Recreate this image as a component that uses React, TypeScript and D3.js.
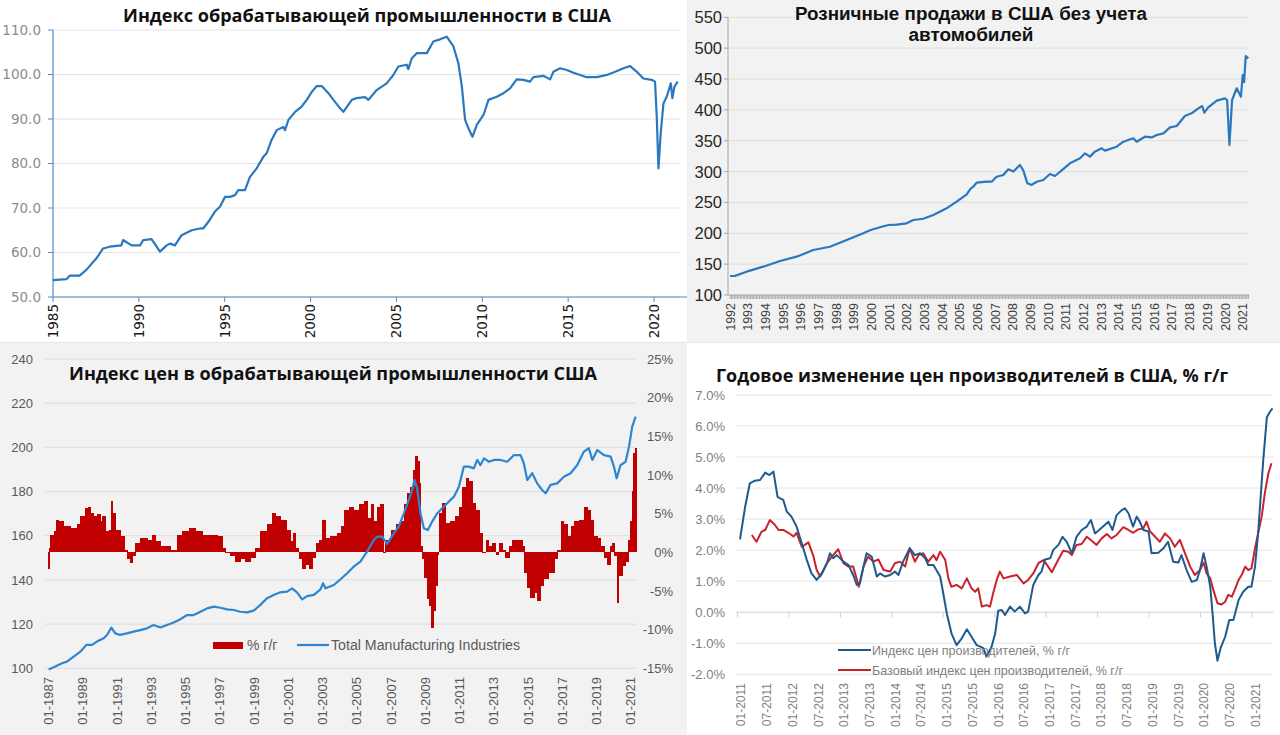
import React from "react";
import * as d3 from "d3";

type Pt = [number, number];

// ---------- Panel 1: manufacturing production index ----------
const mfgTitle = "Индекс обрабатывающей промышленности в США";
const mfgYTicks = [50, 60, 70, 80, 90, 100, 110];
const mfgXTicks = [1985, 1990, 1995, 2000, 2005, 2010, 2015, 2020];
const mfgSeries: Pt[] = [
  [1985.0, 53.8], [1985.78, 54.0], [1985.97, 54.8], [1986.55, 54.8], [1986.94, 56.1], [1987.53, 58.7],
  [1987.92, 60.9], [1988.3, 61.3], [1988.98, 61.6], [1989.08, 62.8], [1989.58, 61.6], [1990.07, 61.6],
  [1990.26, 62.8], [1990.74, 63.0], [1991.23, 60.2], [1991.62, 61.6], [1991.81, 62.0], [1992.1, 61.6],
  [1992.49, 63.9], [1993.08, 65.0], [1993.56, 65.4], [1993.75, 65.4], [1994.05, 66.9], [1994.43, 69.2],
  [1994.72, 70.3], [1995.02, 72.5], [1995.31, 72.5], [1995.6, 72.9], [1995.79, 74.0], [1996.18, 74.0],
  [1996.47, 77.0], [1996.86, 78.9], [1997.25, 81.5], [1997.44, 82.3], [1997.73, 85.3], [1998.03, 87.5],
  [1998.41, 88.2], [1998.51, 87.5], [1998.71, 89.8], [1999.1, 91.6], [1999.48, 92.8], [1999.78, 94.3],
  [2000.07, 96.1], [2000.36, 97.4], [2000.65, 97.4], [2001.04, 95.8], [2001.33, 94.3], [2001.72, 92.4],
  [2001.91, 91.6], [2002.4, 94.3], [2002.69, 94.7], [2003.17, 94.9], [2003.37, 94.3], [2003.85, 96.5],
  [2004.43, 98.0], [2004.82, 99.9], [2005.11, 101.8], [2005.6, 102.2], [2005.69, 101.2], [2005.89, 103.6],
  [2006.18, 104.8], [2006.77, 104.8], [2007.15, 107.4], [2007.54, 107.9], [2007.93, 108.5], [2008.32, 106.3],
  [2008.61, 102.5], [2008.81, 97.3], [2009.0, 89.8], [2009.19, 87.9], [2009.43, 86.0], [2009.68, 88.7],
  [2010.07, 90.9], [2010.36, 94.3], [2010.84, 95.0], [2011.23, 95.8], [2011.62, 96.9], [2012.0, 98.9],
  [2012.39, 98.8], [2012.78, 98.4], [2012.98, 99.4], [2013.56, 99.7], [2013.95, 98.9], [2014.14, 100.6],
  [2014.53, 101.4], [2014.92, 101.0], [2015.31, 100.4], [2015.7, 99.9], [2016.08, 99.4], [2016.67, 99.4],
  [2017.25, 99.9], [2017.74, 100.6], [2018.22, 101.4], [2018.61, 101.9], [2019.0, 100.6], [2019.38, 99.1],
  [2019.87, 98.8], [2020.06, 98.4], [2020.16, 90.5], [2020.26, 78.9], [2020.39, 86.8], [2020.55, 93.5],
  [2020.74, 95.0], [2020.98, 98.0], [2021.07, 94.7], [2021.19, 97.3], [2021.38, 98.4],
];

// ---------- Panel 2: retail sales ex autos ----------
const retailTitle = ["Розничные продажи в США без учета", "автомобилей"];
const retailYTicks = [100, 150, 200, 250, 300, 350, 400, 450, 500, 550];
const retailXYears = [
  1992, 1993, 1994, 1995, 1996, 1997, 1998, 1999, 2000, 2001, 2002, 2003, 2004, 2005, 2006,
  2007, 2008, 2009, 2010, 2011, 2012, 2013, 2014, 2015, 2016, 2017, 2018, 2019, 2020, 2021,
];
const retailSeries: Pt[] = [
  [1992.0, 130.8], [1992.28, 131.0], [1992.94, 137.8], [1993.88, 145.9], [1994.83, 155.1], [1995.77, 162.1],
  [1996.71, 172.9], [1997.65, 178.2], [1998.6, 189.1], [1999.54, 200.0], [1999.92, 205.0], [2000.48, 209.7],
  [2000.96, 213.4], [2001.43, 214.0], [2001.99, 216.2], [2002.37, 221.5], [2002.93, 223.6], [2003.5, 229.6],
  [2004.25, 240.5], [2004.82, 251.2], [2005.39, 263.2], [2005.6, 272.0], [2005.76, 275.5], [2005.95, 282.0],
  [2006.52, 283.6], [2006.8, 283.6], [2007.08, 291.7], [2007.46, 294.4], [2007.74, 303.7], [2008.03, 300.0],
  [2008.4, 310.7], [2008.59, 301.9], [2008.82, 281.0], [2009.06, 278.4], [2009.35, 283.6], [2009.72, 286.3],
  [2010.1, 296.1], [2010.38, 292.8], [2010.76, 301.9], [2011.23, 313.4], [2011.8, 321.5], [2012.08, 329.6],
  [2012.36, 324.2], [2012.64, 332.3], [2013.02, 337.7], [2013.21, 333.9], [2013.87, 340.3], [2014.25, 348.4],
  [2014.81, 353.9], [2015.0, 348.4], [2015.47, 356.5], [2015.85, 355.4], [2016.14, 359.3], [2016.51, 362.0],
  [2016.89, 371.7], [2017.27, 373.9], [2017.73, 390.1], [2018.11, 394.4], [2018.49, 402.5], [2018.71, 406.2],
  [2018.83, 395.4], [2019.05, 404.0], [2019.53, 414.9], [2020.0, 418.7], [2020.12, 416.0], [2020.25, 343.0],
  [2020.4, 416.0], [2020.66, 435.0], [2020.9, 421.3], [2021.0, 456.5], [2021.08, 445.0], [2021.17, 487.3],
  [2021.32, 483.5],
];

// ---------- Panel 3: manufacturing price index ----------
const priceTitle = "Индекс цен в обрабатывающей промышленности США";
const priceLeftTicks = [100, 120, 140, 160, 180, 200, 220, 240];
const priceRightTicks = [-15, -10, -5, 0, 5, 10, 15, 20, 25];
const priceXTicks = [1987, 1989, 1991, 1993, 1995, 1997, 1999, 2001, 2003, 2005, 2007, 2009, 2011, 2013, 2015, 2017, 2019, 2021];
const priceLegend = ["% г/г", "Total Manufacturing Industries"];
const priceYoY: Pt[] = [
  [1987.0, -2.2], [1987.04, 0.6], [1987.08, 2.3], [1987.31, 2.7], [1987.47, 4.2], [1987.6, 4.0], [1987.89, 3.4],
  [1988.28, 3.1], [1988.67, 3.6], [1988.87, 4.7], [1989.16, 5.7], [1989.3, 5.9], [1989.45, 5.1], [1989.65, 4.7],
  [1989.84, 4.9], [1990.04, 4.0], [1990.13, 4.7], [1990.33, 2.7], [1990.52, 2.9], [1990.68, 6.6], [1990.76, 5.1],
  [1990.91, 2.9], [1991.19, 2.1], [1991.44, 0.3], [1991.59, -0.9], [1991.75, -1.4], [1991.89, -0.5], [1992.08, 1.2],
  [1992.37, 1.9], [1992.76, 1.6], [1993.05, 2.3], [1993.25, 1.4], [1993.54, 0.8], [1994.13, 0.3], [1994.52, 2.3],
  [1994.81, 2.7], [1995.2, 3.1], [1995.59, 2.8], [1995.98, 2.3], [1996.46, 2.3], [1996.85, 2.1], [1997.14, 0.6],
  [1997.34, -0.1], [1997.63, -0.5], [1997.92, -1.3], [1998.21, -0.9], [1998.51, -1.2], [1998.8, -0.7], [1999.09, 0.6],
  [1999.38, 2.7], [1999.77, 3.6], [2000.06, 5.1], [2000.26, 4.7], [2000.55, 4.2], [2000.9, 2.9], [2001.14, 1.4],
  [2001.29, 2.5], [2001.43, 0.6], [2001.62, -0.9], [2001.82, -2.2], [2002.01, -1.6], [2002.21, -2.2], [2002.4, -0.7],
  [2002.6, 1.2], [2002.79, 1.6], [2002.98, 4.2], [2003.18, 1.9], [2003.47, 2.1], [2003.86, 2.5], [2004.06, 3.4],
  [2004.25, 5.5], [2004.54, 5.9], [2004.83, 5.5], [2005.13, 6.2], [2005.42, 6.6], [2005.61, 4.4], [2005.81, 6.2],
  [2006.0, 4.0], [2006.2, 5.9], [2006.39, 6.2], [2006.55, -0.1], [2006.68, 1.6], [2006.98, 2.9], [2007.27, 3.6],
  [2007.56, 4.0], [2007.76, 6.2], [2007.95, 7.7], [2008.14, 8.5], [2008.3, 10.7], [2008.38, 12.4], [2008.53, 11.8],
  [2008.65, 9.0], [2008.73, 0.8], [2008.83, -0.9], [2008.92, -3.3], [2009.08, -6.1], [2009.23, -7.0], [2009.35, -9.8],
  [2009.47, -7.6], [2009.59, -4.4], [2009.7, -0.3], [2009.8, 5.1], [2009.99, 6.4], [2010.19, 3.8], [2010.48, 4.0],
  [2010.77, 4.7], [2010.97, 5.9], [2011.16, 8.5], [2011.36, 9.6], [2011.55, 9.2], [2011.75, 6.4], [2011.94, 5.5],
  [2012.14, 2.5], [2012.33, -0.1], [2012.53, 1.6], [2012.72, 0.8], [2012.91, 1.2], [2013.11, -0.3], [2013.3, 1.2],
  [2013.5, 0.3], [2013.69, -0.7], [2013.89, 0.8], [2014.08, 1.6], [2014.38, 1.6], [2014.67, 0.8], [2014.8, -2.7],
  [2014.96, -4.6], [2015.15, -5.9], [2015.35, -5.3], [2015.54, -6.3], [2015.74, -4.4], [2015.93, -3.5], [2016.22, -2.7],
  [2016.52, -0.9], [2016.71, 0.3], [2016.91, 4.0], [2017.1, 3.6], [2017.3, 2.1], [2017.49, 3.4], [2017.69, 4.0],
  [2017.98, 4.2], [2018.27, 5.9], [2018.46, 5.5], [2018.66, 4.2], [2018.85, 2.1], [2019.05, 1.9], [2019.24, 0.8],
  [2019.44, -0.7], [2019.63, -1.6], [2019.79, 0.8], [2019.92, 1.2], [2020.02, -0.5], [2020.18, -6.6], [2020.31, -3.1],
  [2020.51, -1.8], [2020.7, -1.2], [2020.84, 1.6], [2020.96, 4.0], [2021.05, 7.9], [2021.15, 12.8], [2021.23, 13.5],
];
const priceIndex: Pt[] = [
  [1987.02, 99.5], [1987.41, 100.8], [1987.8, 102.3], [1988.09, 103.0], [1988.48, 105.3], [1988.87, 107.5],
  [1989.22, 110.6], [1989.55, 110.6], [1989.84, 112.1], [1990.23, 113.6], [1990.43, 115.1], [1990.68, 118.4],
  [1990.91, 115.8], [1991.19, 115.1], [1991.59, 115.8], [1991.98, 116.6], [1992.37, 117.3], [1992.76, 118.1],
  [1993.15, 119.6], [1993.54, 118.5], [1993.93, 119.6], [1994.32, 120.7], [1994.71, 122.2], [1995.1, 124.1],
  [1995.49, 124.1], [1995.88, 125.6], [1996.27, 127.1], [1996.66, 127.9], [1997.05, 127.4], [1997.44, 126.7],
  [1997.83, 126.4], [1998.21, 125.6], [1998.6, 125.3], [1998.99, 126.1], [1999.38, 128.7], [1999.77, 131.7],
  [2000.16, 133.2], [2000.55, 134.4], [2000.94, 134.7], [2001.23, 136.2], [2001.52, 134.4], [2001.82, 131.2],
  [2002.11, 132.7], [2002.5, 133.2], [2002.89, 135.7], [2003.04, 138.5], [2003.18, 136.2], [2003.67, 137.7],
  [2004.06, 140.3], [2004.45, 143.0], [2004.83, 146.0], [2005.22, 148.3], [2005.61, 152.8], [2006.0, 158.1],
  [2006.2, 159.6], [2006.49, 159.6], [2006.78, 156.3], [2007.17, 161.1], [2007.46, 164.1], [2007.76, 170.1],
  [2008.05, 176.2], [2008.24, 180.7], [2008.38, 185.2], [2008.53, 181.5], [2008.73, 170.1], [2008.92, 163.4],
  [2009.16, 162.6], [2009.41, 166.4], [2009.7, 170.1], [2009.99, 172.4], [2010.29, 174.7], [2010.68, 177.7],
  [2010.97, 182.2], [2011.26, 191.3], [2011.55, 191.3], [2011.84, 190.5], [2012.04, 194.3], [2012.23, 192.0],
  [2012.43, 195.0], [2012.72, 193.5], [2013.01, 194.3], [2013.4, 194.3], [2013.79, 193.5], [2014.18, 196.5],
  [2014.57, 196.5], [2014.76, 192.8], [2014.96, 185.2], [2015.25, 188.3], [2015.54, 183.7], [2015.83, 180.7],
  [2016.03, 179.2], [2016.32, 183.0], [2016.71, 183.7], [2017.1, 186.7], [2017.49, 188.3], [2017.88, 192.0],
  [2018.27, 198.1], [2018.56, 199.6], [2018.76, 194.3], [2019.05, 198.8], [2019.44, 196.5], [2019.83, 195.8],
  [2020.02, 191.3], [2020.18, 186.0], [2020.41, 192.0], [2020.7, 193.5], [2020.9, 200.3], [2021.09, 209.4],
  [2021.29, 213.9],
];

// ---------- Panel 4: PPI y/y ----------
const ppiTitle = "Годовое изменение цен производителей в США, % г/г";
const ppiYTicks = [-2, -1, 0, 1, 2, 3, 4, 5, 6, 7];
const ppiXYears = [2011, 2012, 2013, 2014, 2015, 2016, 2017, 2018, 2019, 2020, 2021];
const ppiXMonths = ["01", "07"];
const ppiLegend = ["Индекс цен производителей, % г/г", "Базовый индекс цен производителей, % г/г"];
const ppiFinal: Pt[] = [
  [2011.0, 2.35], [2011.1, 3.4], [2011.19, 4.15], [2011.29, 4.24], [2011.39, 4.26], [2011.49, 4.5], [2011.57, 4.42],
  [2011.65, 4.53], [2011.73, 3.72], [2011.78, 3.67], [2011.84, 3.62], [2011.91, 3.24], [2012.0, 3.08], [2012.1, 2.76],
  [2012.2, 2.22], [2012.3, 1.68], [2012.39, 1.25], [2012.49, 1.04], [2012.59, 1.25], [2012.69, 1.58], [2012.75, 1.9],
  [2012.81, 1.74], [2012.88, 1.84], [2013.01, 1.63], [2013.11, 1.52], [2013.2, 1.2], [2013.27, 0.88], [2013.33, 0.93],
  [2013.4, 1.47], [2013.46, 1.9], [2013.56, 1.79], [2013.66, 1.15], [2013.72, 1.25], [2013.82, 1.15], [2013.92, 1.2],
  [2014.01, 1.31], [2014.08, 1.2], [2014.17, 1.63], [2014.3, 2.06], [2014.4, 1.84], [2014.5, 1.9], [2014.6, 1.74],
  [2014.66, 1.52], [2014.76, 1.52], [2014.89, 1.15], [2014.95, 0.61], [2015.02, -0.04], [2015.11, -0.68], [2015.21, -1.06],
  [2015.31, -0.84], [2015.41, -0.55], [2015.5, -0.79], [2015.6, -1.06], [2015.67, -1.11], [2015.73, -1.16], [2015.79, -1.43],
  [2015.89, -1.11], [2015.96, -0.68], [2016.02, 0.05], [2016.09, 0.07], [2016.15, -0.09], [2016.25, 0.18], [2016.34, 0.02],
  [2016.44, 0.18], [2016.54, -0.04], [2016.6, 0.02], [2016.7, 0.88], [2016.8, 1.2], [2016.86, 1.31], [2016.93, 1.7],
  [2017.03, 1.74], [2017.09, 2.01], [2017.19, 2.17], [2017.27, 2.43], [2017.35, 2.27], [2017.45, 1.9], [2017.54, 2.43],
  [2017.64, 2.65], [2017.74, 2.76], [2017.82, 2.97], [2017.9, 2.54], [2017.98, 2.65], [2018.09, 2.81], [2018.16, 2.92],
  [2018.24, 2.65], [2018.32, 3.13], [2018.42, 3.29], [2018.48, 3.35], [2018.55, 3.19], [2018.64, 2.76], [2018.71, 3.08],
  [2018.77, 2.92], [2018.84, 2.65], [2018.94, 2.6], [2019.0, 1.9], [2019.13, 1.92], [2019.23, 2.06], [2019.32, 2.27],
  [2019.42, 1.63], [2019.52, 1.6], [2019.58, 1.84], [2019.68, 1.36], [2019.78, 0.98], [2019.88, 1.04], [2019.94, 1.36],
  [2020.01, 1.9], [2020.07, 1.47], [2020.14, 0.82], [2020.19, -0.14], [2020.23, -1.0], [2020.28, -1.56], [2020.34, -1.16],
  [2020.43, -0.79], [2020.51, -0.25], [2020.59, -0.25], [2020.69, 0.39], [2020.78, 0.66], [2020.88, 0.82], [2020.94, 0.82],
  [2021.01, 1.47], [2021.07, 2.54], [2021.12, 3.72], [2021.17, 4.9], [2021.24, 6.28], [2021.3, 6.46], [2021.35, 6.57],
];
const ppiCore: Pt[] = [
  [2011.23, 2.49], [2011.32, 2.27], [2011.42, 2.6], [2011.49, 2.65], [2011.58, 2.97], [2011.68, 2.81], [2011.75, 2.65],
  [2011.84, 2.65], [2011.94, 2.56], [2012.04, 2.44], [2012.1, 2.56], [2012.2, 2.11], [2012.26, 2.17], [2012.33, 2.25],
  [2012.43, 1.79], [2012.49, 1.36], [2012.56, 1.15], [2012.69, 1.58], [2012.81, 1.84], [2012.91, 2.03], [2013.01, 1.58],
  [2013.11, 1.47], [2013.2, 1.47], [2013.31, 0.82], [2013.4, 1.47], [2013.49, 1.79], [2013.59, 1.63], [2013.69, 1.7],
  [2013.79, 1.36], [2013.92, 1.31], [2014.01, 1.58], [2014.11, 1.63], [2014.21, 1.47], [2014.3, 2.06], [2014.4, 1.63],
  [2014.47, 1.84], [2014.56, 1.9], [2014.66, 1.63], [2014.76, 1.84], [2014.82, 1.68], [2014.89, 1.95], [2014.99, 1.68],
  [2015.05, 1.09], [2015.11, 0.82], [2015.21, 0.88], [2015.31, 0.77], [2015.41, 1.09], [2015.5, 0.77], [2015.57, 0.66],
  [2015.63, 0.77], [2015.7, 0.18], [2015.79, 0.23], [2015.86, 0.18], [2015.92, 0.61], [2015.99, 1.04], [2016.05, 1.31],
  [2016.12, 1.09], [2016.25, 1.15], [2016.38, 1.2], [2016.51, 0.93], [2016.6, 1.04], [2016.7, 1.25], [2016.8, 1.58],
  [2016.9, 1.68], [2016.99, 1.47], [2017.06, 1.29], [2017.15, 1.58], [2017.28, 1.98], [2017.38, 1.95], [2017.45, 1.84],
  [2017.54, 2.17], [2017.64, 2.2], [2017.74, 2.43], [2017.83, 2.31], [2017.93, 2.17], [2018.03, 2.38], [2018.13, 2.52],
  [2018.22, 2.38], [2018.32, 2.49], [2018.45, 2.74], [2018.55, 2.65], [2018.64, 2.56], [2018.74, 2.67], [2018.84, 2.7],
  [2018.9, 2.92], [2018.97, 2.6], [2019.07, 2.43], [2019.16, 2.27], [2019.26, 2.54], [2019.36, 2.38], [2019.45, 2.11],
  [2019.55, 2.33], [2019.65, 1.9], [2019.75, 1.47], [2019.84, 1.2], [2019.94, 1.36], [2020.01, 1.6], [2020.07, 1.25],
  [2020.14, 1.09], [2020.2, 0.72], [2020.28, 0.29], [2020.36, 0.25], [2020.43, 0.34], [2020.49, 0.56], [2020.56, 0.5],
  [2020.62, 0.74], [2020.69, 1.04], [2020.75, 1.2], [2020.82, 1.47], [2020.88, 1.36], [2020.94, 1.41], [2021.01, 2.06],
  [2021.07, 2.54], [2021.14, 3.08], [2021.2, 3.83], [2021.27, 4.48], [2021.33, 4.8],
];

const F_TITLE = "'Open Sans', 'DejaVu Sans', sans-serif";
const F_ARIAL = "'Liberation Sans', Arial, sans-serif";
const F_DEJAVU = "'DejaVu Sans', Verdana, sans-serif";

function Panel1() {
  const x = d3.scaleLinear().domain([1985, 2020]).range([53, 654]);
  const y = d3.scaleLinear().domain([50, 110]).range([297, 30]);
  const line = d3.line<Pt>().x((d) => x(d[0])).y((d) => y(d[1]));
  const axisC = "#4f8cc9";
  return (
    <g>
      {mfgYTicks.map((t) => (
        <line key={"g" + t} x1={53} x2={680} y1={y(t)} y2={y(t)} stroke="#e4e4e4" strokeWidth={1} />
      ))}
      <line x1={53} x2={53} y1={30} y2={297} stroke={axisC} strokeWidth={1.2} />
      <line x1={53} x2={690} y1={297} y2={297} stroke={axisC} strokeWidth={1.2} />
      {mfgYTicks.map((t) => (
        <g key={"y" + t}>
          <line x1={48} x2={53} y1={y(t)} y2={y(t)} stroke={axisC} />
          <text x={41} y={y(t)} dy="0.36em" textAnchor="end" fontFamily={F_DEJAVU} fontSize={13.5} fill="#8c8c8c">
            {d3.format(".1f")(t)}
          </text>
        </g>
      ))}
      {mfgXTicks.map((t) => (
        <g key={"x" + t}>
          <line x1={x(t)} x2={x(t)} y1={297} y2={302} stroke={axisC} />
          <text transform={`translate(${x(t)},304) rotate(-90)`} dy="0.36em" textAnchor="end" fontFamily={F_DEJAVU} fontSize={13.5} fill="#1a1a1a">
            {t}
          </text>
        </g>
      ))}
      <path d={line(mfgSeries) || ""} fill="none" stroke="#2a78be" strokeWidth={2.2} strokeLinejoin="round" />
      <text x={123} y={22} fontFamily={F_TITLE} fontWeight={700} fontSize={17} textLength={488} lengthAdjust="spacingAndGlyphs" fill="#111">
        {mfgTitle}
      </text>
    </g>
  );
}

function Panel2() {
  const x = d3.scaleLinear().domain([1992, 2021]).range([730, 1242.7]);
  const y = d3.scaleLinear().domain([100, 550]).range([295, 17.3]);
  const line = d3.line<Pt>().x((d) => x(d[0])).y((d) => y(d[1]));
  const months = d3.range(0, 29 * 12 + 5).map((i) => 1992 + i / 12);
  return (
    <g>
      <rect x={687} y={0} width={593} height={342} fill="#f2f2f2" />
      {retailYTicks.filter((t) => t > 100).map((t) => (
        <line key={"g" + t} x1={728} x2={1248} y1={y(t)} y2={y(t)} stroke="#dedede" />
      ))}
      <line x1={728} x2={728} y1={17} y2={295} stroke="#a6a6a6" />
      <line x1={728} x2={1249} y1={295} y2={295} stroke="#a6a6a6" />
      {months.map((m, i) => (
        <line key={"m" + i} x1={x(m)} x2={x(m)} y1={295} y2={299} stroke="#9a9a9a" strokeWidth={0.8} />
      ))}
      {retailYTicks.map((t) => (
        <g key={"y" + t}>
          <line x1={724} x2={728} y1={y(t)} y2={y(t)} stroke="#a6a6a6" />
          <text x={722} y={y(t)} dy="0.36em" textAnchor="end" fontFamily={F_ARIAL} fontSize={16.5} fill="#262626">
            {t}
          </text>
        </g>
      ))}
      {retailXYears.map((t) => (
        <text key={"x" + t} transform={`translate(${x(t)},303) rotate(-90)`} dy="0.36em" textAnchor="end" fontFamily={F_ARIAL} fontSize={12.5} fill="#404040">
          {t}
        </text>
      ))}
      <path d={line(retailSeries) || ""} fill="none" stroke="#2a78be" strokeWidth={2.2} strokeLinejoin="round" />
      <text x={971} y={20} textAnchor="middle" fontFamily={F_ARIAL} fontWeight={700} fontSize={18} textLength={352} lengthAdjust="spacingAndGlyphs" fill="#111">
        {retailTitle[0]}
      </text>
      <text x={971} y={41} textAnchor="middle" fontFamily={F_ARIAL} fontWeight={700} fontSize={18} textLength={125} lengthAdjust="spacingAndGlyphs" fill="#111">
        {retailTitle[1]}
      </text>
    </g>
  );
}

function Panel3() {
  const x = d3.scaleLinear().domain([1987, 2021]).range([48.3, 630.7]);
  const yL = d3.scaleLinear().domain([100, 240]).range([668.3, 359]);
  const yR = d3.scaleLinear().domain([-15, 25]).range([668.3, 359]);
  const line = d3.line<Pt>().x((d) => x(d[0])).y((d) => yL(d[1]));
  const n = priceYoY.length;
  const grey = "#595959";
  return (
    <g>
      <rect x={0} y={343} width={687} height={392} fill="#f2f2f2" />
      {priceLeftTicks.map((t) => (
        <line key={"g" + t} x1={45} x2={636} y1={yL(t)} y2={yL(t)} stroke="#dcdcdc" />
      ))}
      {priceLeftTicks.map((t) => (
        <text key={"l" + t} x={33} y={yL(t)} dy="0.36em" textAnchor="end" fontFamily={F_ARIAL} fontSize={13} fill={grey}>
          {t}
        </text>
      ))}
      {priceRightTicks.map((t) => (
        <text key={"r" + t} x={673} y={yR(t)} dy="0.36em" textAnchor="end" fontFamily={F_ARIAL} fontSize={13} fill={grey}>
          {`${t}%`}
        </text>
      ))}
      {priceXTicks.map((t) => (
        <text key={"x" + t} transform={`translate(${x(t)},677) rotate(-90)`} dy="0.36em" textAnchor="end" fontFamily={F_ARIAL} fontSize={13} fill={grey}>
          {`01-${t}`}
        </text>
      ))}
      <g shapeRendering="crispEdges">
        {priceYoY.map((d, i) => {
          const x0 = x(d[0]);
          const x1 = i < n - 1 ? x(priceYoY[i + 1][0]) : x0 + 1.6;
          const y0 = yR(0);
          const yv = yR(d[1]);
          return <rect key={"b" + i} x={x0} width={Math.max(1, x1 - x0 + 0.6)} y={Math.min(y0, yv)} height={Math.abs(yv - y0)} fill="#c00000" />;
        })}
      </g>
      <path d={line(priceIndex) || ""} fill="none" stroke="#2e86d1" strokeWidth={2.2} strokeLinejoin="round" />
      <text x={69} y={380} fontFamily={F_TITLE} fontWeight={700} fontSize={18} textLength={528} lengthAdjust="spacingAndGlyphs" fill="#111">
        {priceTitle}
      </text>
      <rect x={213} y={642} width={30} height={7} fill="#c00000" />
      <text x={247} y={650} fontFamily={F_ARIAL} fontSize={14} fill={grey}>{priceLegend[0]}</text>
      <line x1={297} x2={329} y1={645} y2={645} stroke="#2e86d1" strokeWidth={2.2} />
      <text x={331} y={650} fontFamily={F_ARIAL} fontSize={14} textLength={189} lengthAdjust="spacingAndGlyphs" fill={grey}>{priceLegend[1]}</text>
    </g>
  );
}

function Panel4() {
  const x = d3.scaleLinear().domain([2011, 2021]).range([740, 1254.5]);
  const y = d3.scaleLinear().domain([-2, 7]).range([674.3, 395]);
  const line = d3.line<Pt>().x((d) => x(d[0])).y((d) => y(d[1]));
  const grey = "#7f7f7f";
  const labels: { v: number; s: string }[] = [];
  ppiXYears.forEach((yr) => {
    ppiXMonths.forEach((m, k) => {
      if (yr === 2021 && k === 1) return;
      labels.push({ v: yr + k * 0.5, s: `${m}-${yr}` });
    });
  });
  return (
    <g>
      {ppiYTicks.map((t) => (
        <line key={"g" + t} x1={736} x2={1273} y1={y(t)} y2={y(t)} stroke={t === 0 ? "#d0d0d0" : "#e6e6e6"} />
      ))}
      {ppiXYears.map((t) => (
        <line key={"t" + t} x1={x(t) - 2.5} x2={x(t) - 2.5} y1={y(0)} y2={y(0) + 5} stroke="#d0d0d0" />
      ))}
      {ppiYTicks.map((t) => (
        <text key={"y" + t} x={725} y={y(t)} dy="0.36em" textAnchor="end" fontFamily={F_ARIAL} fontSize={13} fill={grey}>
          {`${t.toFixed(1)}%`}
        </text>
      ))}
      {labels.map((l) => (
        <text key={l.s} transform={`translate(${x(l.v) + 1},683) rotate(-90)`} dy="0.36em" textAnchor="end" fontFamily={F_ARIAL} fontSize={12} fill={grey}>
          {l.s}
        </text>
      ))}
      <path d={line(ppiCore) || ""} fill="none" stroke="#c8232b" strokeWidth={2} strokeLinejoin="round" />
      <path d={line(ppiFinal) || ""} fill="none" stroke="#1f5a8e" strokeWidth={2} strokeLinejoin="round" />
      <text x={716} y={381.5} fontFamily={F_TITLE} fontWeight={700} fontSize={18} textLength={512} lengthAdjust="spacingAndGlyphs" fill="#111">
        {ppiTitle}
      </text>
      <line x1={838} x2={871} y1={650} y2={650} stroke="#1f5a8e" strokeWidth={2} />
      <text x={872} y={655} fontFamily={F_ARIAL} fontSize={13} textLength={198} lengthAdjust="spacingAndGlyphs" fill={grey}>{ppiLegend[0]}</text>
      <line x1={838} x2={871} y1={670} y2={670} stroke="#c8232b" strokeWidth={2} />
      <text x={872} y={675} fontFamily={F_ARIAL} fontSize={13} textLength={251} lengthAdjust="spacingAndGlyphs" fill={grey}>{ppiLegend[1]}</text>
    </g>
  );
}

export default function App() {
  return (
    <svg width={1280} height={735} viewBox="0 0 1280 735" style={{ position: "absolute", left: 0, top: 0, background: "#ffffff" }}>
      <rect x={0} y={0} width={1280} height={735} fill="#ffffff" />
      <Panel1 />
      <Panel2 />
      <Panel3 />
      <Panel4 />
      <line x1={0} x2={687} y1={342.5} y2={342.5} stroke="#e6e6e6" />
      <line x1={687} x2={1280} y1={342.5} y2={342.5} stroke="#e6e6e6" />
    </svg>
  );
}
